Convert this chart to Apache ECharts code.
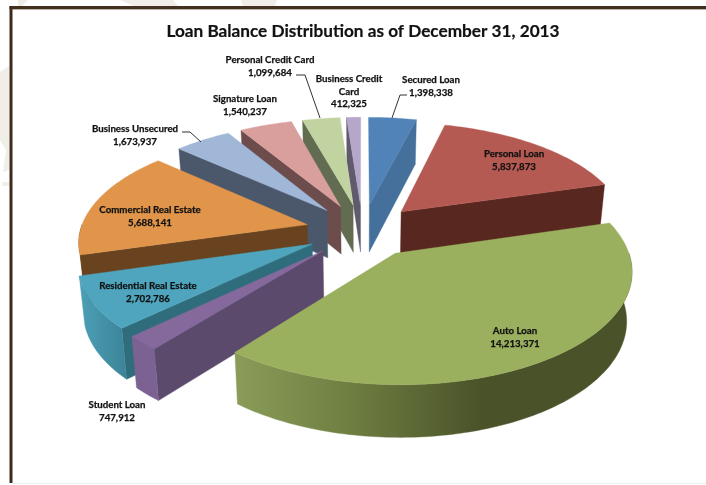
<!DOCTYPE html>
<html><head><meta charset="utf-8">
<style>html,body{margin:0;padding:0;background:#fff}#c{width:706px;height:485px}</style>
<script src="https://cdn.jsdelivr.net/npm/echarts@6/dist/echarts.min.js"></script>
</head><body><div id="c"></div>
<script>
const categories = ['Secured Loan','Personal Loan','Auto Loan','Student Loan','Residential Real Estate','Commercial Real Estate','Business Unsecured','Signature Loan','Personal Credit Card','Business Credit Card'];
const values = [1398338,5837873,14213371,747912,2702786,5688141,1673937,1540237,1099684,412325];
const titleText = 'Loan Balance Distribution as of December 31, 2013';

const topColors  = ['#5183B9','#B55A52','#9BB05E','#85699C','#4EA5BD','#E0954B','#A0B7D8','#D99F9C','#C2D3A2','#B4A7CA'];
const wallColors = ['#44709B','#582720','#4A5229','#5C4A6C','#2F6D7D','#69431F','#4B586C','#6C4D4C','#626C50','#5F5A6C'];
const labelLines = [['Secured Loan'],['Personal Loan'],['Auto Loan'],['Student Loan'],['Residential Real Estate'],['Commercial Real Estate'],['Business Unsecured'],['Signature Loan'],['Personal Credit Card'],['Business Credit','Card']];
const labelAt = [[431,80],[514,154],[515,331],[117,405],[148,286],[150,210],[135,129],[245,99],[270,60],[349,79]];
const leaders = [[[407,95],[400,95],[392,118]],[[296,75],[305,75],[320,118]],[[182,132],[190,132],[201,142]]];
const patches = [
  [[120,0],[173,0],[178,6],[134,6]],
  [[241,0],[277,0],[275,6],[243,6]],
  [[0,72],[9,66],[9,170],[3,172],[6,150],[0,140]],
  [[2,182],[9,182],[9,186],[2,186]],
  [[18,0],[28,0],[22,6],[18,6]]
];

const G = {cx:362.5, cy:230.5, R:227, e:57, k:.468, q:.000611, D:48, shrink:.98};
const total = values.reduce((a,b)=>a+b,0);
const starts = []; values.reduce((acc,v,i)=>{starts[i]=acc; return acc+v;},0);
const deg = v => v/total*2*Math.PI;

function project(u,v,bottom){
  const s = 1/(1-G.q*v);
  let x = G.cx+s*u, y = G.cy+s*G.k*v;
  if(bottom){ x = G.cx+(x-G.cx)*G.shrink; y += G.D*Math.sqrt(s); }
  return [x,y];
}
function slicePoint(i,r,th,bottom){
  const mid = deg(starts[i]+values[i]/2);
  const u = G.e*Math.sin(mid)+r*Math.sin(th), v = -G.e*Math.cos(mid)-r*Math.cos(th);
  return project(u,v,bottom);
}
function arc(i,a,b,bottom){
  const pts=[]; const n=Math.max(2,Math.ceil(Math.abs(b-a)/(Math.PI/180)));
  for(let j=0;j<=n;j++) pts.push(slicePoint(i,G.R,a+(b-a)*j/n,bottom));
  return pts;
}
function wallFill(i){
  if(i===2) return new echarts.graphic.LinearGradient(236,0,632,0,[
    {offset:0,color:'#8A9C58'},{offset:.3,color:'#6D7D40'},{offset:.62,color:'#4A5229'},{offset:1,color:'#4A5229'}],true);
  if(i===4) return new echarts.graphic.LinearGradient(80,0,130,0,[{offset:0,color:'#4C9FB6'},{offset:1,color:'#3A8296'}],true);
  if(i===3) return '#7C6292';
  return wallColors[i];
}
const order = values.map((_,i)=>i).sort((x,y)=>Math.cos(deg(starts[y]+values[y]/2))-Math.cos(deg(starts[x]+values[x]/2)));

function renderSlice(params,api){
  const i = api.value(1);
  const a = deg(starts[i]), b = deg(starts[i]+values[i]);
  const kids=[];
  const poly=(pts,fill)=>kids.push({type:'polygon',shape:{points:pts},style:{fill:fill,stroke:fill,lineWidth:.4}});
  if(Math.sin(a)<-1e-6){
    poly([slicePoint(i,0,a,false),slicePoint(i,G.R,a,false),slicePoint(i,G.R,a,true),slicePoint(i,0,a,true)],wallColors[i]);
  }
  if(Math.sin(b)>1e-6){
    poly([slicePoint(i,0,b,false),slicePoint(i,G.R,b,false),slicePoint(i,G.R,b,true),slicePoint(i,0,b,true)],wallColors[i]);
  }
  const a2=Math.max(a,Math.PI/2), b2=Math.min(b,Math.PI*1.5);
  if(b2>a2){
    poly(arc(i,a2,b2,false).concat(arc(i,a2,b2,true).reverse()),wallFill(i));
  }
  poly([slicePoint(i,0,a,false)].concat(arc(i,a,b,false)),topColors[i]);
  return {type:'group',children:kids};
}
const num = v => v.toLocaleString('en-US');
function renderLabel(params,api){
  const i = api.value(1);
  const lines = labelLines[i].concat([num(values[i])]);
  return {type:'group',children:lines.map((t,n)=>({type:'text',style:{
    text:t,x:labelAt[i][0],y:labelAt[i][1]+n*12.6,align:'center',verticalAlign:'middle',
    font:'bold 9.7px Lato, "Open Sans", sans-serif',fill:'#111',stroke:'#111',lineWidth:.25}}))};
}
const frame = patches.map(p=>({type:'polygon',shape:{points:p},style:{fill:'#F1EEE8'},silent:true,z:0})).concat([
  {type:'rect',shape:{x:9.5,y:6,width:697,height:3},style:{fill:'#43301F'},silent:true},
  {type:'rect',shape:{x:12.5,y:9,width:694,height:.8},style:{fill:'#A79A8C'},silent:true},
  {type:'rect',shape:{x:9.5,y:6,width:3,height:477},style:{fill:'#3D2B1F'},silent:true},
  {type:'rect',shape:{x:12.5,y:483,width:694,height:1},style:{fill:'#EDEDED'},silent:true}
]);
const leaderGraphics = leaders.map(p=>({type:'polyline',shape:{points:p},style:{stroke:'#333',lineWidth:1,fill:null},z:20,silent:true}));
const titleGraphic = {type:'text',z:20,silent:true,style:{text:titleText,x:363,y:31,align:'center',verticalAlign:'middle',
  font:'bold 17.2px Lato, "Open Sans", sans-serif',fill:'#111',stroke:'#111',lineWidth:.2}};
const chart = echarts.init(document.getElementById('c'),null,{renderer:'canvas'});
chart.setOption({
  animation:false,
  backgroundColor:'#fff',
  graphic:frame.concat(leaderGraphics,[titleGraphic]),
  series:[
    {type:'custom',coordinateSystem:'none',renderItem:renderSlice,silent:true,z:2,
     data:order.map(i=>({name:categories[i],value:[values[i],i]}))},
    {type:'custom',coordinateSystem:'none',renderItem:renderLabel,silent:true,z:10,
     data:categories.map((c,i)=>({name:c,value:[values[i],i]}))}
  ]
});
</script></body></html>
